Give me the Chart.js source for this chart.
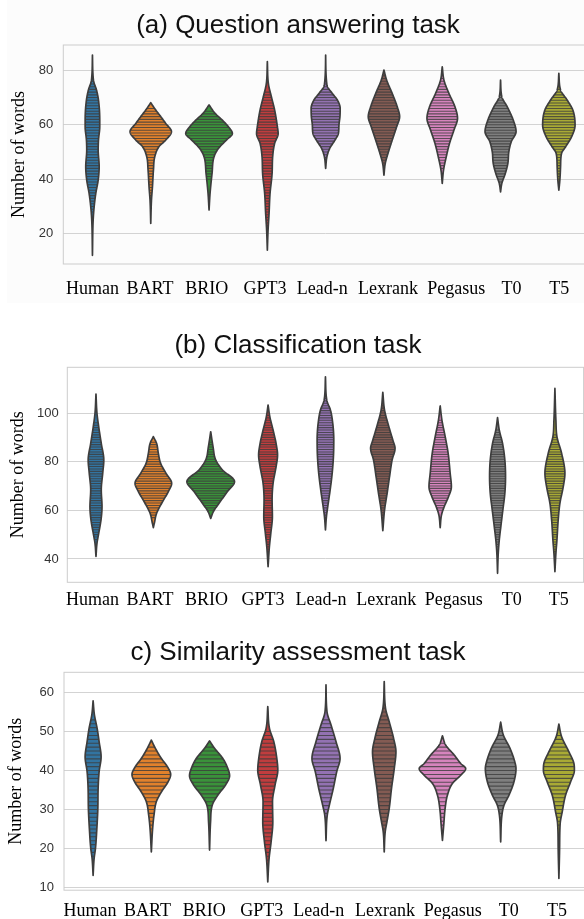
<!DOCTYPE html>
<html>
<head>
<meta charset="utf-8">
<script src="https://cdn.jsdelivr.net/npm/chart.js@4.4.1/dist/chart.umd.min.js"></script>
<style>
html,body{margin:0;padding:0;background:#fff;overflow:hidden;width:584px;height:919px;}
.panel{position:absolute;left:0;}
.tint{position:absolute;left:7px;top:0;width:577px;height:303px;background:#fcfcfc;}
canvas{display:block;}
</style>
</head>
<body>
<div class="tint"></div>
<div class="panel" style="top:0px"><canvas id="qa" width="590" height="305"></canvas></div>
<div class="panel" style="top:305px"><canvas id="cls" width="590" height="305"></canvas></div>
<div class="panel" style="top:610px"><canvas id="sim" width="590" height="309"></canvas></div>
<script>
// ---------------- data ----------------
const categories = ['Human','BART','BRIO','GPT3','Lead-n','Lexrank','Pegasus','T0','T5'];
const violinColors = ['#3274a1','#e1812c','#3a923a','#c03d3e','#9372b2','#845b53','#d684bd','#7f7f7f','#a9aa35'];

const titles = ['(a) Question answering task','(b) Classification task','c) Similarity assessment task'];
const axisTitle = 'Number of words';

// y tick labels per panel
const qaTicks  = [20, 40, 60, 80];
const clsTicks = [40, 60, 80, 100];
const simTicks = [10, 20, 30, 40, 50, 60];

// Violin outlines: word-count levels (top tip -> bottom tip) and half-widths (% of category band)
const qaShapeY = [
  [85.6,76.4,72.8,69.1,61.7,59.3,54.4,50.7,44.6,39.7,34.8,29.9,25,12.1],
  [68.1,65.4,63,60.5,57.5,54.4,52,48.3,43.4,37.2,32.3,23.8],
  [67.3,64.2,61.7,59.3,56.8,54.4,51.3,48.3,42.1,34.8,28.7],
  [83.2,75.2,70.3,65.4,59.3,56.8,53.2,48.3,42.1,34.8,27.4,21.3,14],
  [85.6,74.6,71.5,69.1,66,63,59.9,56.8,54.4,51.3,48.3,44],
  [80.1,76.4,71.5,66.6,63,59.3,54.4,49.5,45.8,41.5],
  [81.3,76.4,71.5,66.6,62.4,58.1,53.2,48.3,43.4,38.5],
  [76.4,70.3,66.6,61.7,57.5,53.8,50.1,45.8,42.1,38.5,35.4],
  [78.9,72.8,69.1,65.4,59.9,55.6,51.9,49.5,44.6,39.7,36]
];
const qaShapeW = [
  [0,1.7,6.9,10.3,12.5,12.5,10.3,9.8,11.5,9.8,5.7,2.9,1.2,0],
  [0,8.6,17.2,25.7,35.5,25.7,14.2,6.9,4.6,2.9,1.2,0],
  [0,10.3,22.8,33.1,40,29.7,16,8.6,5.1,1.7,0],
  [0,1.7,6.9,12.5,17.2,18.5,12.5,9.1,8.1,4.6,2.9,1.2,0],
  [0,2.2,11.5,20.1,24.9,24.5,22.8,21.8,16,6.9,2.2,0],
  [0,4.6,14.2,22.8,26.9,21.8,14.2,6.9,2.2,0],
  [0,2.9,11.5,21.8,26.2,20.1,12.5,6.9,2.2,0],
  [0,2.2,11.5,21.8,26.6,18.4,14.2,12.5,8.1,2.2,0],
  [0,2.9,14.2,24,27.8,21.8,11.5,4.6,2.9,1.7,0]
];
// observed word-count range (stick lines drawn at each observed count)
const qaSticks = [[28,77],[34,66],[40,65],[22,72],[48,76],[44,78],[44,77],[39,72],[40,74]];

const clsShapeY = [
  [107.8,99.9,94.4,87.5,80.7,75.2,68.4,61.5,56,50.5,46.4,41],
  [90.3,87.5,83.4,79.3,75.2,71.1,67.7,62.9,58.8,54.7,52.9],
  [92.3,86.2,80.7,76.6,71.8,67.7,62.9,59.5,56.7],
  [103.3,98.5,93,87.5,82.7,77.9,71.1,64.2,57.4,50.5,45.1,36.8],
  [114.9,105.3,101.2,95.8,88.9,82.1,75.2,68.4,61.5,57.4,51.9],
  [108.5,101.2,94.4,88.9,85.5,80.7,73.8,67,60.1,51.6],
  [102.9,97.1,90.3,83.4,75.2,69.7,65.6,61.5,58.1,52.9],
  [98.1,93,87.5,80.7,73.8,67,60.1,53.3,47.8,42.3,34.1],
  [110.1,97.1,90.3,83.4,75.2,69.7,62.9,56,47.8,42.3,34.8]
];
const clsShapeW = [
  [0,1.7,4.7,9.2,13.6,11.7,9.2,10.5,8.7,4.7,1.7,0],
  [0,5.7,8.7,12.7,22.1,31.9,26.1,14.5,5.7,1.7,0],
  [0,4,8.7,20.4,41.5,29.1,14.5,4.7,0],
  [0,3,8.7,13.9,16.5,13.9,8.7,7,7.5,4.7,2.3,0],
  [0,2.3,8.7,12.7,14.5,13.9,11.7,8.2,4,1.7,0],
  [0,3,10.5,17.4,21.3,16.2,11.7,7.5,3,0],
  [0,3,8.7,13.9,17.4,19.5,14.5,7,2.3,0],
  [0,3,8.7,12.7,13.9,12.7,9.2,5.7,3,1.2,0],
  [0,1.7,3.5,11.7,17.4,14.5,8.7,5.7,3.5,1.7,0]
];
const clsSticks = [[48,96],[57,88],[60,88],[43,99],[57,108],[57,104],[60,97],[45,93],[40,91]];

const simShapeY = [
  [57.9,54.3,50.8,47.4,43.5,39.7,35.4,30.3,25.1,20,17.4,13.1],
  [47.8,45.7,43.1,41,39,37.1,34.5,32,28.6,25.1,19.1],
  [47.6,45.7,43.1,40.5,38.7,36.3,33.7,31.1,26.8,19.6],
  [56.4,50.8,47.4,43.1,40.1,36.3,32,26.8,21.7,17.4,11.4],
  [62,55.1,51.7,47.4,43.1,39.7,35.4,31.1,28.6,22],
  [62.8,56,52.5,48.3,44.8,40.5,35.4,30.3,26.8,24.3,19.1],
  [48.9,46.5,44,41.8,40.5,38.8,36.7,33.7,30.3,26,22.1],
  [52.4,49.1,45.7,42.3,40.5,37.1,33.7,31.1,28.6,21.7],
  [51.9,48.7,44.8,41.8,40.1,37.1,33.7,29.4,26.4,20,12.3]
];
const simShapeW = [
  [0,2.2,6.9,10.3,13.7,10.3,8.6,8.1,6.4,4,1.7,0],
  [0,6.9,17.2,27.5,33.2,28.7,17.2,8.6,4.6,2.2,0],
  [0,8.6,22.8,31.4,34.4,27.5,14.3,4.6,1.7,0],
  [0,2.9,10.3,15.5,17.2,12.5,8.1,8.6,5.7,2.2,0],
  [0,1.7,8.6,17.2,24.1,18.4,12.5,5.7,2.2,0],
  [0,2.2,8.6,16,20.1,17.2,12.5,8.6,4.6,1.7,0],
  [0,5.7,20.1,31.4,39.9,31.4,17.2,8.6,4.6,2.2,0],
  [0,4.6,16,24.1,26.3,22.8,14.3,5.7,2.2,0],
  [0,4.6,17.2,25.8,26.6,20.1,11.5,5.7,2.2,1.2,0]
];
const simSticks = [[18,53],[25,46],[30,46],[16,50],[28,53],[25,57],[26,47],[28,50],[26,49]];

// ---------------- layout (label centres in px, as typeset in the original figure) ----------------
const labelCentres = {
  qa:  [92.5,150,206.7,265,322.3,388,456.3,511.5,559.2],
  cls: [92.5,150,206.5,263,321,386.3,453.8,511.7,558.8],
  sim: [90,147.5,204.3,261.7,318.7,385,452.8,508.8,557]
};

class TypesetCategoryScale extends Chart.CategoryScale {
  _computeLabelItems(chartArea) {
    const items = super._computeLabelItems(chartArea);
    const pos = labelCentres[this.chart.canvas.id];
    if (pos) {
      items.forEach((it, i) => {
        if (pos[i] !== undefined && it.options && it.options.translation) {
          it.options.translation = [pos[i], it.options.translation[1]];
        }
      });
    }
    return items;
  }
}
TypesetCategoryScale.id = 'typesetCategory';
TypesetCategoryScale.defaults = Chart.CategoryScale.defaults;
Chart.register(TypesetCategoryScale);

// ---------------- helpers ----------------
function monotone(xs, ys) {
  const n = xs.length, d = [], m = new Array(n);
  for (let i = 0; i < n - 1; i++) d.push((ys[i+1]-ys[i])/(xs[i+1]-xs[i]));
  m[0] = d[0]; m[n-1] = d[n-2];
  for (let i = 1; i < n - 1; i++) m[i] = (d[i-1]*d[i] <= 0) ? 0 : (d[i-1]+d[i])/2;
  for (let i = 0; i < n - 1; i++) {
    if (d[i] === 0) { m[i] = 0; m[i+1] = 0; continue; }
    const a = m[i]/d[i], b = m[i+1]/d[i], s = a*a + b*b;
    if (s > 9) { const t = 3/Math.sqrt(s); m[i] = t*a*d[i]; m[i+1] = t*b*d[i]; }
  }
  return function(x) {
    if (x <= xs[0]) return ys[0];
    if (x >= xs[n-1]) return ys[n-1];
    let i = 0; while (x > xs[i+1]) i++;
    const h = xs[i+1]-xs[i], t = (x-xs[i])/h, t2 = t*t, t3 = t2*t;
    const v = (2*t3-3*t2+1)*ys[i] + (t3-2*t2+t)*h*m[i] + (-2*t3+3*t2)*ys[i+1] + (t3-t2)*h*m[i+1];
    return Math.max(0, v);
  };
}

function violinPlugin(shapeY, shapeW, sticks) {
  return {
    id: 'violins',
    beforeDatasetsDraw(chart) {
      const {ctx, scales: {x, y}} = chart;
      const band = x.getPixelForValue(1) - x.getPixelForValue(0);
      shapeY.forEach((ysDesc, i) => {
        const Y = ysDesc.slice().reverse();
        const W = shapeW[i].slice().reverse();
        const f = monotone(Y, W);
        const xc = x.getPixelForValue(i);
        const y0 = Y[0], y1 = Y[Y.length-1];
        const n = Math.ceil((y1 - y0) / 0.1);
        const pts = [];
        for (let k = 0; k <= n; k++) {
          const v = y0 + (y1 - y0) * k / n;
          pts.push([y.getPixelForValue(v), f(v) / 100 * band]);
        }
        const outline = () => {
          ctx.beginPath();
          pts.forEach(([py, w], k) => k ? ctx.lineTo(xc + w, py) : ctx.moveTo(xc + w, py));
          for (let k = pts.length - 1; k >= 0; k--) ctx.lineTo(xc - pts[k][1], pts[k][0]);
          ctx.closePath();
        };
        ctx.save();
        outline();
        ctx.fillStyle = violinColors[i];
        ctx.fill();
        // stick lines at observed word counts
        ctx.save();
        ctx.clip();
        ctx.strokeStyle = 'rgba(60,60,60,0.8)';
        ctx.lineWidth = 1.1;
        const [lo, hi] = sticks[i];
        for (let s = lo; s <= hi; s++) {
          const w = f(s) / 100 * band;
          const py = y.getPixelForValue(s);
          ctx.beginPath();
          ctx.moveTo(xc - w, py);
          ctx.lineTo(xc + w, py);
          ctx.stroke();
        }
        ctx.restore();
        outline();
        ctx.strokeStyle = '#3d3d3d';
        ctx.lineWidth = 1.7;
        ctx.lineJoin = 'round';
        ctx.stroke();
        ctx.restore();
      });
    }
  };
}

function framePlugin(title, titleBaseline) {
  return {
    id: 'frame',
    afterDraw(chart) {
      const {ctx, chartArea: a} = chart;
      ctx.save();
      ctx.strokeStyle = '#cccccc';
      ctx.lineWidth = 1;
      ctx.strokeRect(a.left, a.top, a.right - a.left, a.bottom - a.top);
      ctx.fillStyle = '#111111';
      ctx.font = '26px "Liberation Sans", Arial, sans-serif';
      ctx.textAlign = 'center';
      ctx.textBaseline = 'alphabetic';
      ctx.fillText(title, 298, titleBaseline);
      ctx.restore();
    }
  };
}

function makePanel(id, p) {
  new Chart(document.getElementById(id), {
    type: 'bar',
    data: { labels: categories, datasets: [] },
    options: {
      responsive: false,
      animation: false,
      devicePixelRatio: 1,
      layout: { padding: { top: p.top, right: p.right, left: 0, bottom: 0 } },
      plugins: { legend: { display: false }, tooltip: { enabled: false }, title: { display: false } },
      scales: {
        x: {
          type: 'typesetCategory',
          offset: true,
          grid: { display: false, drawTicks: false },
          border: { display: false },
          ticks: { color: '#000', padding: p.xPad, maxRotation: 0, autoSkip: false,
                   font: { family: '"Liberation Serif", "Times New Roman", serif', size: 18 } },
          afterFit(s) { s.height = p.xH; }
        },
        y: {
          type: 'linear',
          min: p.min, max: p.max,
          afterBuildTicks(s) { s.ticks = p.ticks.map(v => ({ value: v })); },
          grid: { color: '#d3d3d3', lineWidth: 1, drawTicks: false },
          border: { display: false },
          ticks: { color: '#333', padding: p.yPad,
                   font: { family: '"Liberation Sans", Arial, sans-serif', size: 13 } },
          title: { display: true, text: axisTitle, color: '#000', padding: { top: p.tPad, bottom: 0 },
                   font: { family: '"Liberation Serif", "Times New Roman", serif', size: 18 } },
          afterFit(s) { s.width = p.yW; }
        }
      }
    },
    plugins: [framePlugin(p.title, p.titleY), violinPlugin(p.shapeY, p.shapeW, p.sticks)]
  });
}

makePanel('qa', { title: titles[0], titleY: 33.3, top: 45, right: 2, xH: 41, yW: 63.3, xPad: 14.5, yPad: 10, tPad: 8,
  min: 8.9, max: 89.3, ticks: qaTicks, shapeY: qaShapeY, shapeW: qaShapeW, sticks: qaSticks });
makePanel('cls', { title: titles[1], titleY: 48.3, top: 62.3, right: 6.4, xH: 27.7, yW: 67.3, xPad: 7, yPad: 8.6, tPad: 7.5,
  min: 30.4, max: 118.8, ticks: clsTicks, shapeY: clsShapeY, shapeW: clsShapeW, sticks: clsSticks });
makePanel('sim', { title: titles[2], titleY: 50.3, top: 62.3, right: 2, xH: 28.8, yW: 64, xPad: 10.7, yPad: 10, tPad: 5,
  min: 9.3, max: 65.2, ticks: simTicks, shapeY: simShapeY, shapeW: simShapeW, sticks: simSticks });
</script>
</body>
</html>
